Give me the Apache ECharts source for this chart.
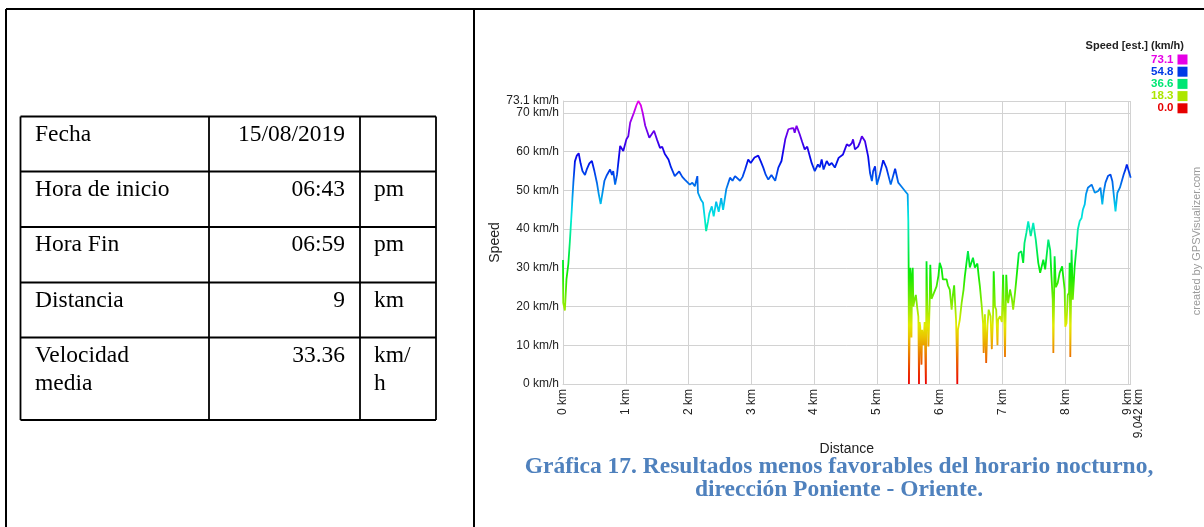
<!DOCTYPE html>
<html>
<head>
<meta charset="utf-8">
<script src="https://cdn.jsdelivr.net/npm/echarts@6/dist/echarts.min.js"></script>
<style>
  html, body { margin: 0; padding: 0; background: #ffffff; }
  #chart { width: 1204px; height: 527px; }
</style>
</head>
<body>
<div id="chart"></div>
<script>
// Trip summary table
const tableLabels = ['Fecha', 'Hora de inicio', 'Hora Fin', 'Distancia', 'Velocidad\nmedia'];
const tableValues = ['15/08/2019', '06:43', '06:59', '9', '33.36'];
const tableUnits = ['', 'pm', 'pm', 'km', 'km/\nh'];

// Speed profile along the route
const distanceKm = [
  0.000, 0.004, 0.030, 0.055, 0.085, 0.110, 0.140, 0.150, 0.165, 0.190,
  0.220, 0.250, 0.280, 0.310, 0.350, 0.380, 0.420, 0.460, 0.500, 0.540,
  0.570, 0.600, 0.630, 0.660, 0.700, 0.750, 0.780, 0.800, 0.830, 0.860,
  0.910, 0.960, 1.010, 1.040, 1.070, 1.130, 1.170, 1.200, 1.240, 1.270,
  1.310, 1.375, 1.450, 1.500, 1.545, 1.580, 1.620, 1.680, 1.720, 1.780,
  1.850, 1.900, 1.940, 1.970, 2.020, 2.060, 2.100, 2.140, 2.150, 2.200,
  2.230, 2.260, 2.280, 2.310, 2.330, 2.370, 2.400, 2.440, 2.480, 2.520,
  2.550, 2.600, 2.660, 2.700, 2.740, 2.820, 2.860, 2.900, 2.950, 2.990,
  3.050, 3.110, 3.150, 3.190, 3.230, 3.270, 3.320, 3.380, 3.430, 3.480,
  3.540, 3.590, 3.630, 3.670, 3.690, 3.720, 3.770, 3.810, 3.850, 3.890,
  3.960, 4.010, 4.060, 4.090, 4.120, 4.150, 4.200, 4.240, 4.280, 4.330,
  4.390, 4.460, 4.520, 4.560, 4.600, 4.620, 4.650, 4.700, 4.730, 4.760,
  4.810, 4.860, 4.890, 4.920, 4.940, 4.970, 5.000, 5.040, 5.100, 5.150,
  5.220, 5.290, 5.340, 5.390, 5.450, 5.490, 5.500, 5.505, 5.510, 5.520,
  5.530, 5.540, 5.550, 5.560, 5.570, 5.580, 5.600, 5.620, 5.640, 5.660,
  5.670, 5.680, 5.690, 5.710, 5.720, 5.740, 5.760, 5.780, 5.790, 5.800,
  5.820, 5.840, 5.850, 5.870, 5.900, 5.950, 5.980, 6.000, 6.030, 6.050,
  6.080, 6.110, 6.130, 6.160, 6.190, 6.210, 6.230, 6.260, 6.270, 6.280,
  6.290, 6.320, 6.350, 6.380, 6.400, 6.450, 6.480, 6.530, 6.560, 6.600,
  6.620, 6.640, 6.670, 6.690, 6.700, 6.720, 6.740, 6.760, 6.780, 6.810,
  6.830, 6.850, 6.860, 6.880, 6.900, 6.920, 6.930, 6.960, 6.990, 7.010,
  7.030, 7.040, 7.050, 7.060, 7.080, 7.090, 7.120, 7.150, 7.170, 7.200,
  7.220, 7.260, 7.300, 7.330, 7.350, 7.380, 7.410, 7.450, 7.490, 7.530,
  7.570, 7.600, 7.650, 7.680, 7.700, 7.730, 7.760, 7.780, 7.800, 7.810,
  7.820, 7.830, 7.850, 7.880, 7.910, 7.950, 7.990, 8.000, 8.020, 8.040,
  8.060, 8.070, 8.080, 8.090, 8.100, 8.120, 8.150, 8.180, 8.200, 8.230,
  8.260, 8.280, 8.310, 8.330, 8.360, 8.390, 8.420, 8.440, 8.470, 8.520,
  8.560, 8.590, 8.610, 8.640, 8.680, 8.720, 8.750, 8.780, 8.800, 8.830,
  8.870, 8.900, 8.930, 8.960, 8.980, 9.000, 9.042
];
const speedKmh = [
  32, 21, 19, 27, 31, 37, 45, 48, 52, 57.5,
  59, 59.6, 57, 55, 54, 55.5, 57, 57.6, 55, 52,
  49, 46.5, 47, 52.5, 54, 55.4, 54, 55, 51.5, 54,
  61.5, 60.2, 63.2, 64, 67.5, 70.1, 72, 73.1, 72, 70,
  66.7, 63.6, 65.4, 63, 61, 61.3, 59.5, 58, 56, 53.7,
  54.9, 53.5, 52.8, 52.8, 51.5, 52, 51.1, 53.7, 49.4, 47.5,
  46.8, 42.5, 39.5, 42, 44, 45.9, 43.3, 47.1, 44.5, 48,
  45, 50.3, 53.3, 52.5, 53.7, 52.5, 53.5, 55.4, 58, 57.1,
  58.5, 59, 57.5, 55.9, 54, 52.8, 54, 52.5, 55.9, 57.6,
  63.2, 65.8, 66, 66.1, 64.9, 66.7, 64.5, 62.5, 60.6, 61.3,
  57.1, 55, 56.7, 56, 58, 55.4, 57.6, 56.5, 57.1, 55.9,
  58.4, 59.3, 61.9, 61.5, 62.2, 63.2, 60.6, 61.3, 62.5, 64,
  62.7, 58.8, 54.5, 52.4, 55, 56.2, 51.5, 53.7, 57.8, 55.9,
  51.5, 55.6, 52, 51, 49.8, 49, 42, 31, 0, 12,
  30, 25, 12, 28, 30, 20, 21.8, 23, 20, 17.4,
  0, 16, 14.8, 5, 14, 10, 16, 0, 31.7, 22,
  9.7, 20.9, 30.8, 22, 21.8, 25.2, 28, 31.3, 29.8, 27,
  26.5, 27, 25.5, 24.4, 19.2, 23, 25.5, 16.6, 10, 0,
  14, 16.6, 21, 24.4, 27.8, 34.3, 30.1, 32.6, 30.1, 31.1,
  28, 25.2, 20, 15.7, 8, 18, 5.4, 15, 19.2, 17.5,
  9, 18, 29.1, 20, 19.2, 10, 16.6, 17.5, 16, 28.2,
  15, 7, 18, 28.2, 22, 20.9, 24.4, 22, 19.2, 23.6,
  26.9, 33.8, 34.3, 31.3, 36.4, 39, 42, 38.2, 41.6, 37.3,
  31.3, 28.7, 32.1, 29.6, 30, 37.3, 34.6, 27.8, 21.8, 8,
  20, 33, 25, 26.1, 28.7, 30.4, 24.4, 14.8, 15.7, 23,
  23.6, 31.3, 7, 20, 34.7, 21.8, 30.4, 35.6, 39.9, 42.1,
  42.9, 45, 46.4, 49, 50.7, 51, 51.5, 50.7, 49.4, 49.8,
  50.7, 46.4, 49.4, 52, 53.7, 54.1, 52.4, 47.7, 44.6, 49.4,
  50.7, 51.1, 54.1, 55.5, 56.7, 56.4, 53.3
];
const speedMax = 73.1;
const routeLengthKm = 9.042;
const legendValues = [73.1, 54.8, 36.6, 18.3, 0.0];

// Speed colour scale: hue runs from red (0) through green and blue to magenta (max)
function hsvToHex(h, s, v) {
  const c = v * s, hp = h / 60, x = c * (1 - Math.abs(hp % 2 - 1));
  let r = 0, g = 0, b = 0;
  if (hp < 1) { r = c; g = x; }
  else if (hp < 2) { r = x; g = c; }
  else if (hp < 3) { g = c; b = x; }
  else if (hp < 4) { g = x; b = c; }
  else if (hp < 5) { r = x; b = c; }
  else { r = c; b = x; }
  const m = v - c;
  const hex = n => Math.round((n + m) * 255).toString(16).padStart(2, '0');
  return '#' + hex(r) + hex(g) + hex(b);
}
const speedColor = s => hsvToHex(300 * s / speedMax, 1, 0.9);
const colorStops = [];
for (let i = 0; i <= 24; i++) colorStops.push(hsvToHex(300 * i / 24, 1, 0.92));

const points = distanceKm.map((d, i) => [d, speedKmh[i]]);

const serif = '"Liberation Serif", "Times New Roman", serif';
const sans = '"Liberation Sans", Arial, sans-serif';

// Frame and table drawn as graphic elements
const graphics = [];
const line = (x1, y1, x2, y2, w) => graphics.push({
  type: 'line', silent: true,
  shape: { x1, y1, x2, y2 },
  style: { stroke: '#000', lineWidth: w }
});
line(6, 9, 1204, 9, 2);
line(6, 9, 6, 527, 2);
line(474, 9, 474, 527, 2);

const colX = [20.5, 209, 360, 436];
const rowY = [116.5, 171.5, 227, 282.5, 337.5, 420];
colX.forEach(x => line(x, rowY[0], x, rowY[rowY.length - 1], 1.8));
rowY.forEach(y => line(colX[0], y, colX[colX.length - 1], y, 1.8));

const cellText = (text, x, y, align) => graphics.push({
  type: 'text', silent: true, x, y,
  style: {
    text, fill: '#000', font: '23.5px ' + serif,
    align, verticalAlign: 'top', lineHeight: 28
  }
});
tableLabels.forEach((t, i) => {
  const top = rowY[i] + 4;
  cellText(t, 35, top, 'left');
  cellText(tableValues[i], 345, top, 'right');
  if (tableUnits[i]) cellText(tableUnits[i], 374, top, 'left');
});

// Legend for the speed colours
graphics.push({
  type: 'text', silent: true, x: 1184, y: 46,
  style: { text: 'Speed [est.] (km/h)', fill: '#222', font: 'bold 11px ' + sans, align: 'right', verticalAlign: 'middle' }
});
legendValues.forEach((v, i) => {
  const cy = 59.5 + i * 12.2;
  const c = speedColor(v);
  graphics.push({
    type: 'text', silent: true, x: 1173.5, y: cy,
    style: { text: v.toFixed(1), fill: c, font: 'bold 11.5px ' + sans, align: 'right', verticalAlign: 'middle' }
  });
  graphics.push({
    type: 'rect', silent: true,
    shape: { x: 1177.5, y: cy - 5, width: 10, height: 10 },
    style: { fill: c }
  });
});

// Credit line
graphics.push({
  type: 'text', silent: true, x: 1197, y: 241, rotation: Math.PI / 2,
  style: { text: 'created by GPSVisualizer.com', fill: '#9a9a9a', font: '11px ' + sans, align: 'center', verticalAlign: 'middle' }
});

// Caption under the chart
graphics.push({
  type: 'text', silent: true, x: 839, y: 455,
  style: {
    text: 'Gráfica 17. Resultados menos favorables del horario nocturno,\ndirección Poniente - Oriente.',
    fill: '#4f81bd', font: 'bold 23.5px ' + serif, align: 'center', verticalAlign: 'top', lineHeight: 23.5
  }
});

const gridColor = '#d2d2d2';
const labelStyle = { fontFamily: sans, fontSize: 12, color: '#222' };
const chart = echarts.init(document.getElementById('chart'), null, { renderer: 'canvas' });
chart.setOption({
  backgroundColor: '#ffffff',
  animation: false,
  grid: { left: 563, right: 73.3, top: 101, bottom: 143, outerBoundsMode: 'none' },
  xAxis: [{
    type: 'value', min: 0, max: routeLengthKm, interval: 1,
    name: 'Distance', nameLocation: 'middle', nameGap: 58,
    nameTextStyle: { fontFamily: sans, fontSize: 14, color: '#222' },
    axisLine: { lineStyle: { color: gridColor, width: 1 } },
    axisTick: { show: false },
    splitLine: { show: true, lineStyle: { color: gridColor, width: 1 } },
    axisLabel: Object.assign({
      rotate: 90, margin: 5, showMinLabel: true, showMaxLabel: false,
      formatter: v => v + ' km'
    }, labelStyle)
  }, {
    // end-of-route label, set just beside the whole-km label
    type: 'value', min: 0, max: routeLengthKm, position: 'bottom',
    axisLine: { show: false }, axisTick: { show: false }, splitLine: { show: false },
    axisLabel: Object.assign({
      rotate: 90, margin: 5, customValues: [routeLengthKm],
      formatter: v => '{end|' + v + ' km}',
      rich: { end: Object.assign({ padding: [16, 0, 0, 0] }, labelStyle) }
    }, labelStyle)
  }],
  yAxis: {
    type: 'value', min: 0, max: speedMax, interval: 10,
    name: 'Speed', nameLocation: 'middle', nameGap: 54,
    nameTextStyle: { fontFamily: sans, fontSize: 14, color: '#222' },
    axisLine: { show: true, lineStyle: { color: gridColor, width: 1 } },
    axisTick: { show: false },
    splitLine: { show: true, lineStyle: { color: gridColor, width: 1 } },
    axisLabel: Object.assign({
      margin: 4, showMinLabel: true, showMaxLabel: true,
      formatter: v => v + ' km/h'
    }, labelStyle)
  },
  visualMap: {
    show: false, type: 'continuous', seriesIndex: 0, dimension: 1,
    min: 0, max: speedMax, inRange: { color: colorStops }
  },
  series: [{
    type: 'line', xAxisIndex: 0, data: points, showSymbol: false, silent: true,
    lineStyle: { width: 1.8 }
  }],
  graphic: graphics
});
</script>
</body>
</html>
